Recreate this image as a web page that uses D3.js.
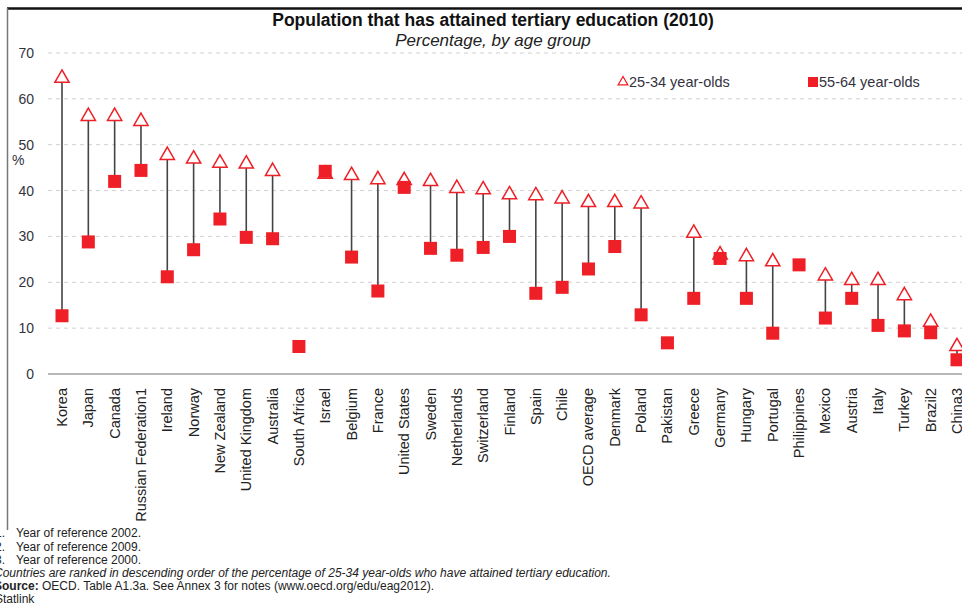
<!DOCTYPE html>
<html lang="en">
<head>
    <meta charset="UTF-8">
    <title>Population that has attained tertiary education (2010)</title>
    <script src="https://d3js.org/d3.v7.min.js"></script>
    <style>
        body, html {
          margin: 0;
          padding: 0;
          background: #fff;
          overflow: hidden;
        }
        svg {
          display: block;
          font-family: "Liberation Sans", Arial, sans-serif;
        }
        .grid line {
          stroke: #d0d0d0;
          stroke-dasharray: 4,4;
        }
        .tick-label {
          font-size: 14px;
          fill: #333340;
        }
        .country {
          font-size: 14.5px;
          fill: #222;
        }
        .note {
          font-size: 12px;
          fill: #222;
        }
    </style>
</head>
<body>
<svg></svg>
<script>
    const width = 962;
    const height = 604;

    // countries, ranked by 25-34 year-olds
    const countries = ["Korea", "Japan", "Canada", "Russian Federation1", "Ireland", "Norway",
      "New Zealand", "United Kingdom", "Australia", "South Africa", "Israel", "Belgium",
      "France", "United States", "Sweden", "Netherlands", "Switzerland", "Finland", "Spain",
      "Chile", "OECD average", "Denmark", "Poland", "Pakistan", "Greece", "Germany", "Hungary",
      "Portugal", "Philippines", "Mexico", "Austria", "Italy", "Turkey", "Brazil2", "China3"];

    // 25-34 year-olds (null = not available)
    const young = [64.5, 56.2, 56.2, 55.1, 47.7, 46.9, 46.0, 45.8, 44.2, null, 43.6, 43.3,
      42.4, 42.2, 42.0, 40.5, 40.2, 39.1, 38.9, 38.2, 37.4, 37.4, 37.1, null, 30.7, 26.0,
      25.6, 24.5, null, 21.4, 20.4, 20.4, 17.1, 11.3, 6.0];

    // 55-64 year-olds
    const old = [12.7, 28.8, 42.0, 44.4, 21.2, 27.1, 33.8, 29.8, 29.5, 6.0, 44.2, 25.5,
      18.1, 40.7, 27.4, 25.9, 27.6, 30.0, 17.6, 18.9, 22.9, 27.8, 12.9, 6.8, 16.5, 25.2,
      16.5, 8.9, 23.8, 12.2, 16.5, 10.6, 9.4, 9.0, 3.1];

    const yTicks = [0, 10, 20, 30, 40, 50, 60, 70];

    const notes = ["Year of reference 2002.", "Year of reference 2009.", "Year of reference 2000."];

    const red = "#ee1f26";

    const data = countries.map((c, i) => ({country: c, young: young[i], old: old[i]}));

    const svg = d3.select("svg")
      .attr("width", width)
      .attr("height", height);

    const x = d3.scalePoint()
      .domain(countries)
      .range([62, 957]);

    const y = d3.scaleLinear()
      .domain([0, 70])
      .range([374, 53]);

    // frame
    svg.append("line")
      .attr("x1", 7).attr("x2", width).attr("y1", 8.5).attr("y2", 8.5)
      .attr("stroke", "#111").attr("stroke-width", 2.5);
    svg.append("line")
      .attr("x1", 7.5).attr("x2", 7.5).attr("y1", 8).attr("y2", 530)
      .attr("stroke", "#777").attr("stroke-width", 1.5);

    // title
    svg.append("text")
      .attr("x", 493).attr("y", 26)
      .attr("text-anchor", "middle")
      .style("font-size", "17.5px").style("font-weight", "bold").style("fill", "#111")
      .text("Population that has attained tertiary education (2010)");
    svg.append("text")
      .attr("x", 493).attr("y", 46)
      .attr("text-anchor", "middle")
      .style("font-size", "17px").style("font-style", "italic").style("fill", "#222")
      .text("Percentage, by age group");

    // gridlines
    svg.append("g").attr("class", "grid")
      .selectAll("line")
      .data(yTicks.filter(d => d > 0))
      .enter().append("line")
        .attr("x1", 48).attr("x2", width)
        .attr("y1", d => y(d)).attr("y2", d => y(d));

    svg.append("line")
      .attr("x1", 48).attr("x2", width)
      .attr("y1", y(0)).attr("y2", y(0))
      .attr("stroke", "#a0a0a0").attr("stroke-width", 1.5);

    // y axis labels
    svg.selectAll(".tick-label")
      .data(yTicks)
      .enter().append("text")
        .attr("class", "tick-label")
        .attr("x", 34)
        .attr("y", d => y(d) + 5)
        .attr("text-anchor", "end")
        .text(d => d);

    svg.append("text")
      .attr("class", "tick-label")
      .attr("x", 12).attr("y", 165)
      .text("%");

    // connecting lines
    svg.append("g")
      .selectAll("line")
      .data(data.filter(d => d.young != null && d.old != null))
      .enter().append("line")
        .attr("x1", d => x(d.country)).attr("x2", d => x(d.country))
        .attr("y1", d => y(d.young)).attr("y2", d => y(d.old))
        .attr("stroke", "#444").attr("stroke-width", 1.6);

    // 25-34 triangles
    const tri = d3.symbol().type(d3.symbolTriangle).size(88);
    svg.append("g")
      .selectAll("path")
      .data(data.filter(d => d.young != null))
      .enter().append("path")
        .attr("d", tri)
        .attr("transform", d => `translate(${x(d.country)},${y(d.young)})`)
        .attr("fill", "#fff")
        .attr("stroke", red)
        .attr("stroke-width", 1.5);

    // 55-64 squares
    svg.append("g")
      .selectAll("rect")
      .data(data.filter(d => d.old != null))
      .enter().append("rect")
        .attr("x", d => x(d.country) - 6.5)
        .attr("y", d => y(d.old) - 6.5)
        .attr("width", 13)
        .attr("height", 13)
        .attr("fill", red);

    // country labels
    svg.append("g")
      .selectAll("text")
      .data(countries)
      .enter().append("text")
        .attr("class", "country")
        .attr("text-anchor", "end")
        .attr("transform", d => `translate(${x(d) + 5},388) rotate(-90)`)
        .text(d => d);

    // legend
    const legend = svg.append("g");
    legend.append("path")
      .attr("d", d3.symbol().type(d3.symbolTriangle).size(40))
      .attr("transform", "translate(623,82)")
      .attr("fill", "#fff").attr("stroke", red).attr("stroke-width", 1.3);
    legend.append("text")
      .attr("x", 629).attr("y", 87)
      .style("font-size", "14.5px").style("fill", "#333340")
      .text("25-34 year-olds");
    legend.append("rect")
      .attr("x", 808).attr("y", 77).attr("width", 10).attr("height", 10)
      .attr("fill", red);
    legend.append("text")
      .attr("x", 819).attr("y", 87)
      .style("font-size", "14.5px").style("fill", "#333340")
      .text("55-64 year-olds");

    // notes
    const noteY = [537, 551, 564];
    notes.forEach((n, i) => {
      svg.append("text").attr("class", "note")
        .attr("x", 5).attr("y", noteY[i]).attr("text-anchor", "end")
        .text((i + 1) + ".");
      svg.append("text").attr("class", "note")
        .attr("x", 16).attr("y", noteY[i])
        .text(n);
    });
    svg.append("text").attr("class", "note")
      .attr("x", -6).attr("y", 577)
      .style("font-style", "italic")
      .text("Countries are ranked in descending order of the percentage of 25-34 year-olds who have attained tertiary education.");
    const src = svg.append("text").attr("class", "note")
      .attr("x", -6).attr("y", 590);
    src.append("tspan").style("font-weight", "bold").text("Source: ");
    src.append("tspan").text("OECD. Table A1.3a. See Annex 3 for notes (www.oecd.org/edu/eag2012).");
    svg.append("text").attr("class", "note")
      .attr("x", -5).attr("y", 603)
      .text("Statlink");
</script>
</body>
</html>
